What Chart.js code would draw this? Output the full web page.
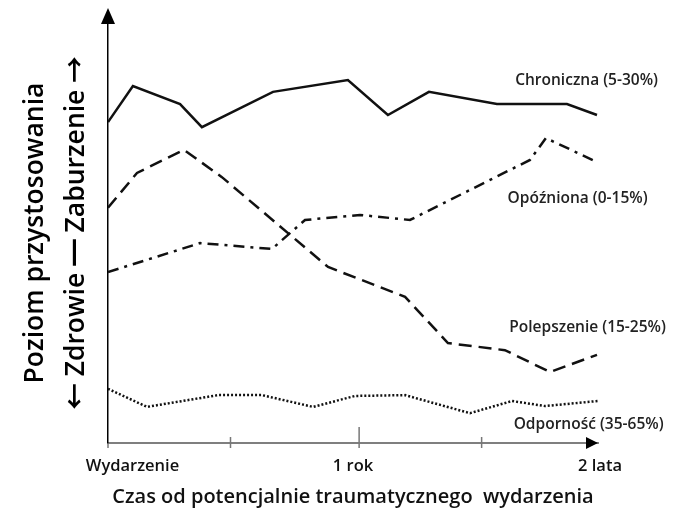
<!DOCTYPE html>
<html>
<head>
<meta charset="utf-8">
<script src="https://cdn.jsdelivr.net/npm/chart.js@4.4.1/dist/chart.umd.min.js"></script>
<style>
  html, body { margin: 0; padding: 0; background: #fff; }
  #wrap { width: 683px; height: 510px; }
</style>
</head>
<body>
<div id="wrap"><canvas id="chart"></canvas></div>
<script>
// time axis in months after the event, level axis 0..100 (higher = more disorder)
const chronicX = [0, 1.22, 3.53, 4.6, 8.08, 11.75, 13.71, 15.72, 19.05, 22.48, 23.95];
const chronicY = [76.4, 85.0, 80.7, 75.2, 83.6, 86.4, 78.1, 83.6, 80.7, 80.7, 78.1];

const delayedX = [0, 4.51, 8.03, 9.65, 12.34, 14.79, 20.67, 21.45, 23.95];
const delayedY = [40.7, 47.6, 46.2, 53.1, 54.3, 53.1, 67.4, 72.6, 66.9];

const recoveryX = [0, 1.42, 3.72, 5.58, 10.78, 14.55, 16.65, 19.44, 21.65, 23.95];
const recoveryY = [56.0, 64.3, 69.8, 63.3, 41.9, 34.8, 23.8, 22.1, 16.9, 21.0];

const resilienceX = [0, 1.91, 5.39, 7.54, 10.04, 12.1, 14.55, 17.73, 19.79, 21.4, 24.0];
const resilienceY = [12.9, 8.6, 11.4, 11.4, 8.6, 11.2, 11.4, 7.1, 10.0, 8.8, 10.0];

const seriesNames = ["Chroniczna (5-30%)", "Opóźniona (0-15%)", "Polepszenie (15-25%)", "Odporność (35-65%)"];
// where each name sits, in axis units
const nameX = [23.44, 23.0, 23.49, 23.54];
const nameY = [86.4, 58.1, 27.6, 4.5];

const xTickLabels = ["Wydarzenie", "1 rok", "2 lata"];
const xTickLabelAt = [1.2, 12, 24.1];
const xTickMarks = [0, 6, 12.3, 18.3];
const xTickMarkUp = [0, 6, 16, 6]; // the "1 rok" mark reaches higher

const pts = (xs, ys) => xs.map((x, i) => ({ x: x, y: ys[i] }));

const lineStyle = (dash) => ({
  borderColor: "#111",
  borderWidth: 2.5,
  borderDash: dash,
  borderCapStyle: "butt",
  pointRadius: 0,
  tension: 0,
  fill: false
});

// arrows, tick marks and the series names
const decor = {
  id: "decor",
  afterDraw(chart) {
    const { ctx, chartArea: a, scales: { x, y } } = chart;
    ctx.save();
    ctx.fillStyle = "#000";
    ctx.beginPath();
    ctx.moveTo(a.left, a.top - 15);
    ctx.lineTo(a.left - 7, a.top + 1);
    ctx.lineTo(a.left + 7, a.top + 1);
    ctx.closePath();
    ctx.fill();

    ctx.beginPath();
    ctx.moveTo(a.right, a.bottom);
    ctx.lineTo(a.right - 12, a.bottom - 6);
    ctx.lineTo(a.right - 12, a.bottom + 6);
    ctx.closePath();
    ctx.fill();

    ctx.strokeStyle = "#777";
    ctx.lineWidth = 1.5;
    xTickMarks.forEach((v, i) => {
      const px = x.getPixelForValue(v);
      ctx.beginPath();
      ctx.moveTo(px, a.bottom - xTickMarkUp[i]);
      ctx.lineTo(px, a.bottom + 5);
      ctx.stroke();
    });

    ctx.fillStyle = "#222";
    ctx.font = "600 15.5px 'Open Sans'";
    ctx.textAlign = "center";
    ctx.textBaseline = "middle";
    seriesNames.forEach((n, i) => {
      ctx.fillText(n, x.getPixelForValue(nameX[i]), y.getPixelForValue(nameY[i]));
    });
    ctx.restore();
  }
};

new Chart(document.getElementById("chart"), {
  type: "line",
  data: {
    datasets: [
      { label: seriesNames[0], data: pts(chronicX, chronicY), ...lineStyle([]) },
      { label: seriesNames[1], data: pts(delayedX, delayedY), ...lineStyle([11, 6, 3, 6]) },
      { label: seriesNames[2], data: pts(recoveryX, recoveryY), ...lineStyle([13, 7]) },
      { label: seriesNames[3], data: pts(resilienceX, resilienceY), ...lineStyle([2, 2]) }
    ]
  },
  options: {
    responsive: true,
    maintainAspectRatio: false,
    animation: false,
    layout: { padding: { top: 23, right: 85, bottom: 0, left: 0 } },
    plugins: { legend: { display: false }, tooltip: { enabled: false } },
    scales: {
      x: {
        type: "linear",
        min: 0,
        max: 24,
        grid: { display: false, drawTicks: false },
        border: { color: "#7f7f7f", width: 2 },
        afterBuildTicks: s => { s.ticks = xTickLabelAt.map(v => ({ value: v })); },
        afterFit: s => { s.height = 67; },
        ticks: {
          autoSkip: false,
          maxRotation: 0,
          padding: 13,
          color: "#111",
          font: { family: "'Open Sans'", size: 16.5, weight: "600" },
          callback: (v, i) => xTickLabels[i]
        },
        title: {
          display: true,
          text: "Czas od potencjalnie traumatycznego  wydarzenia",
          color: "#111",
          font: { family: "'Open Sans'", size: 20, weight: "600" },
          padding: { top: 0, bottom: 1 }
        }
      },
      y: {
        type: "linear",
        min: 0,
        max: 100,
        grid: { display: false, drawTicks: false },
        border: { color: "#000", width: 1.5 },
        ticks: { display: false },
        afterFit: s => { s.width = 108; },
        title: {
          display: true,
          text: ["Poziom przystosowania", "← Zdrowie ━ Zaburzenie →"],
          color: "#000",
          font: { family: "'Open Sans', 'Noto Sans CJK SC'", size: 26.5, weight: "600", lineHeight: 1.55 },
          padding: { top: 15, bottom: 0 }
        }
      }
    }
  },
  plugins: [decor]
});
</script>
</body>
</html>
